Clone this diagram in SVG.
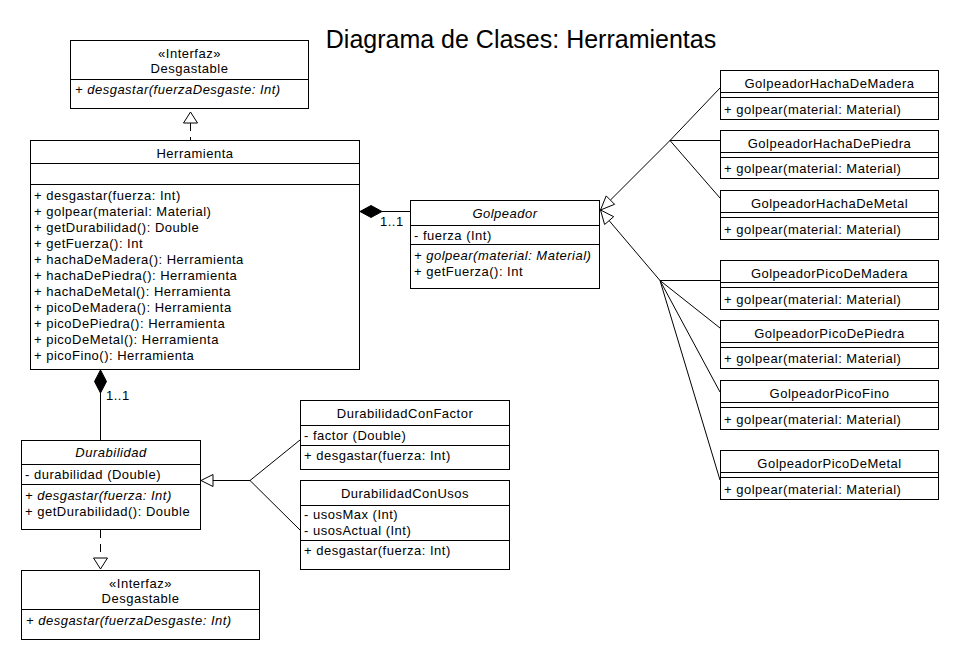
<svg xmlns="http://www.w3.org/2000/svg" width="960" height="660" viewBox="0 0 960 660">
<style>
.b{fill:#fff;stroke:#000;stroke-width:1}
.l{fill:none;stroke:#000;stroke-width:1}
.d{fill:none;stroke:#000;stroke-width:1;stroke-dasharray:8,6}
.h{fill:#fff;stroke:#000;stroke-width:1}
.f{fill:#000;stroke:#000;stroke-width:1}
text{font-family:"Liberation Sans",Arial,sans-serif;font-size:13px;letter-spacing:0.5px;fill:#000}
.c{text-anchor:middle}
.i{font-style:italic}
.title{font-size:25px;letter-spacing:0}
</style>
<rect width="960" height="660" fill="#fff"/>
<text class="title c" x="521" y="48">Diagrama de Clases: Herramientas</text>

<g id="connectors">
  <!-- Herramienta realizes Desgastable -->
  <line class="d" x1="190.5" y1="123" x2="190.5" y2="140"/>
  <polygon class="h" points="190.5,112 183.5,123 197.5,123"/>
  <!-- Herramienta composition Golpeador -->
  <line class="l" x1="382" y1="211.5" x2="410" y2="211.5"/>
  <polygon class="f" points="360,211.5 371,205.5 382,211.5 371,217.5"/>
  <text x="380" y="226">1..1</text>
  <!-- Herramienta composition Durabilidad -->
  <line class="l" x1="100.5" y1="393" x2="100.5" y2="440"/>
  <polygon class="f" points="100.5,370 106.5,381.5 100.5,393 94.5,381.5"/>
  <text x="106" y="400">1..1</text>
  <!-- Hacha generalization -->
  <line class="l" x1="610.4" y1="200.1" x2="670" y2="140.5"/>
  <line class="l" x1="670" y1="140.5" x2="720" y2="88"/>
  <line class="l" x1="670" y1="140.5" x2="720" y2="140.5"/>
  <line class="l" x1="670" y1="140.5" x2="720" y2="198"/>
  <polygon class="h" points="600.5,210 606.2,195.9 614.6,204.3"/>
  <!-- Pico generalization -->
  <line class="l" x1="609.1" y1="220.6" x2="660" y2="280.5"/>
  <line class="l" x1="660" y1="280.5" x2="720" y2="280.5"/>
  <line class="l" x1="660" y1="280.5" x2="720" y2="328"/>
  <line class="l" x1="660" y1="280.5" x2="720" y2="392"/>
  <line class="l" x1="660" y1="280.5" x2="720" y2="480"/>
  <polygon class="h" points="600.5,210 613.7,216.7 604.6,224.5"/>
  <!-- Durabilidad generalization -->
  <line class="l" x1="213" y1="480.5" x2="250" y2="480.5"/>
  <line class="l" x1="250" y1="480.5" x2="300" y2="440"/>
  <line class="l" x1="250" y1="480.5" x2="300" y2="530"/>
  <polygon class="h" points="201,480.5 213,474.5 213,486.5"/>
  <!-- Durabilidad realizes Desgastable -->
  <line class="d" x1="100.5" y1="530" x2="100.5" y2="558"/>
  <polygon class="h" points="100.5,569 93.5,558 107.5,558"/>
</g>

<g id="desgastable-top">
  <rect class="b" x="70.5" y="40.5" width="238" height="68"/>
  <line class="l" x1="70.5" y1="79.5" x2="308.5" y2="79.5"/>
  <text class="c" x="189.5" y="58">«Interfaz»</text>
  <text class="c" x="189.5" y="73">Desgastable</text>
  <text class="i" x="75" y="94">+ desgastar(fuerzaDesgaste: Int)</text>
</g>

<g id="herramienta">
  <rect class="b" x="30.5" y="140.5" width="329" height="229"/>
  <line class="l" x1="30.5" y1="163.5" x2="359.5" y2="163.5"/>
  <line class="l" x1="30.5" y1="184.5" x2="359.5" y2="184.5"/>
  <text class="c" x="195" y="158">Herramienta</text>
  <text x="34" y="200">+ desgastar(fuerza: Int)</text>
  <text x="34" y="216">+ golpear(material: Material)</text>
  <text x="34" y="232">+ getDurabilidad(): Double</text>
  <text x="34" y="248">+ getFuerza(): Int</text>
  <text x="34" y="264">+ hachaDeMadera(): Herramienta</text>
  <text x="34" y="280">+ hachaDePiedra(): Herramienta</text>
  <text x="34" y="296">+ hachaDeMetal(): Herramienta</text>
  <text x="34" y="312">+ picoDeMadera(): Herramienta</text>
  <text x="34" y="328">+ picoDePiedra(): Herramienta</text>
  <text x="34" y="344">+ picoDeMetal(): Herramienta</text>
  <text x="34" y="360">+ picoFino(): Herramienta</text>
</g>

<g id="golpeador">
  <rect class="b" x="410.5" y="200.5" width="189" height="88"/>
  <line class="l" x1="410.5" y1="225.5" x2="599.5" y2="225.5"/>
  <line class="l" x1="410.5" y1="244.5" x2="599.5" y2="244.5"/>
  <text class="c i" x="505" y="218">Golpeador</text>
  <text x="414" y="240">- fuerza (Int)</text>
  <text class="i" x="414" y="260">+ golpear(material: Material)</text>
  <text x="414" y="276">+ getFuerza(): Int</text>
</g>

<g id="hacha-madera">
  <rect class="b" x="720.5" y="70.5" width="218" height="49"/>
  <line class="l" x1="720.5" y1="92.5" x2="938.5" y2="92.5"/>
  <line class="l" x1="720.5" y1="97.5" x2="938.5" y2="97.5"/>
  <text class="c" x="829.5" y="88">GolpeadorHachaDeMadera</text>
  <text x="724" y="114">+ golpear(material: Material)</text>
</g>
<g id="hacha-piedra">
  <rect class="b" x="720.5" y="130.5" width="218" height="48"/>
  <line class="l" x1="720.5" y1="152.5" x2="938.5" y2="152.5"/>
  <line class="l" x1="720.5" y1="157.5" x2="938.5" y2="157.5"/>
  <text class="c" x="829.5" y="148">GolpeadorHachaDePiedra</text>
  <text x="724" y="173">+ golpear(material: Material)</text>
</g>
<g id="hacha-metal">
  <rect class="b" x="720.5" y="190.5" width="218" height="49"/>
  <line class="l" x1="720.5" y1="212.5" x2="938.5" y2="212.5"/>
  <line class="l" x1="720.5" y1="217.5" x2="938.5" y2="217.5"/>
  <text class="c" x="829.5" y="208">GolpeadorHachaDeMetal</text>
  <text x="724" y="234">+ golpear(material: Material)</text>
</g>
<g id="pico-madera">
  <rect class="b" x="720.5" y="260.5" width="218" height="49"/>
  <line class="l" x1="720.5" y1="282.5" x2="938.5" y2="282.5"/>
  <line class="l" x1="720.5" y1="287.5" x2="938.5" y2="287.5"/>
  <text class="c" x="829.5" y="278">GolpeadorPicoDeMadera</text>
  <text x="724" y="304">+ golpear(material: Material)</text>
</g>
<g id="pico-piedra">
  <rect class="b" x="720.5" y="320.5" width="218" height="48"/>
  <line class="l" x1="720.5" y1="342.5" x2="938.5" y2="342.5"/>
  <line class="l" x1="720.5" y1="347.5" x2="938.5" y2="347.5"/>
  <text class="c" x="829.5" y="338">GolpeadorPicoDePiedra</text>
  <text x="724" y="363">+ golpear(material: Material)</text>
</g>
<g id="pico-fino">
  <rect class="b" x="720.5" y="380.5" width="218" height="49"/>
  <line class="l" x1="720.5" y1="402.5" x2="938.5" y2="402.5"/>
  <line class="l" x1="720.5" y1="407.5" x2="938.5" y2="407.5"/>
  <text class="c" x="829.5" y="398">GolpeadorPicoFino</text>
  <text x="724" y="424">+ golpear(material: Material)</text>
</g>
<g id="pico-metal">
  <rect class="b" x="720.5" y="450.5" width="218" height="49"/>
  <line class="l" x1="720.5" y1="472.5" x2="938.5" y2="472.5"/>
  <line class="l" x1="720.5" y1="477.5" x2="938.5" y2="477.5"/>
  <text class="c" x="829.5" y="468">GolpeadorPicoDeMetal</text>
  <text x="724" y="494">+ golpear(material: Material)</text>
</g>

<g id="durabilidad">
  <rect class="b" x="21.5" y="440.5" width="179" height="89"/>
  <line class="l" x1="21.5" y1="464.5" x2="200.5" y2="464.5"/>
  <line class="l" x1="21.5" y1="484.5" x2="200.5" y2="484.5"/>
  <text class="c i" x="111" y="457">Durabilidad</text>
  <text x="25" y="479">- durabilidad (Double)</text>
  <text class="i" x="25" y="500">+ desgastar(fuerza: Int)</text>
  <text x="25" y="516">+ getDurabilidad(): Double</text>
</g>

<g id="durabilidad-factor">
  <rect class="b" x="300.5" y="400.5" width="209" height="69"/>
  <line class="l" x1="300.5" y1="425.5" x2="509.5" y2="425.5"/>
  <line class="l" x1="300.5" y1="445.5" x2="509.5" y2="445.5"/>
  <text class="c" x="405" y="418">DurabilidadConFactor</text>
  <text x="304" y="440">- factor (Double)</text>
  <text x="304" y="460">+ desgastar(fuerza: Int)</text>
</g>

<g id="durabilidad-usos">
  <rect class="b" x="300.5" y="480.5" width="209" height="89"/>
  <line class="l" x1="300.5" y1="505.5" x2="509.5" y2="505.5"/>
  <line class="l" x1="300.5" y1="540.5" x2="509.5" y2="540.5"/>
  <text class="c" x="405" y="498">DurabilidadConUsos</text>
  <text x="304" y="519">- usosMax (Int)</text>
  <text x="304" y="535">- usosActual (Int)</text>
  <text x="304" y="555">+ desgastar(fuerza: Int)</text>
</g>

<g id="desgastable-bottom">
  <rect class="b" x="21.5" y="570.5" width="238" height="69"/>
  <line class="l" x1="21.5" y1="609.5" x2="259.5" y2="609.5"/>
  <text class="c" x="140.5" y="588">«Interfaz»</text>
  <text class="c" x="140.5" y="603">Desgastable</text>
  <text class="i" x="26" y="625">+ desgastar(fuerzaDesgaste: Int)</text>
</g>
</svg>
